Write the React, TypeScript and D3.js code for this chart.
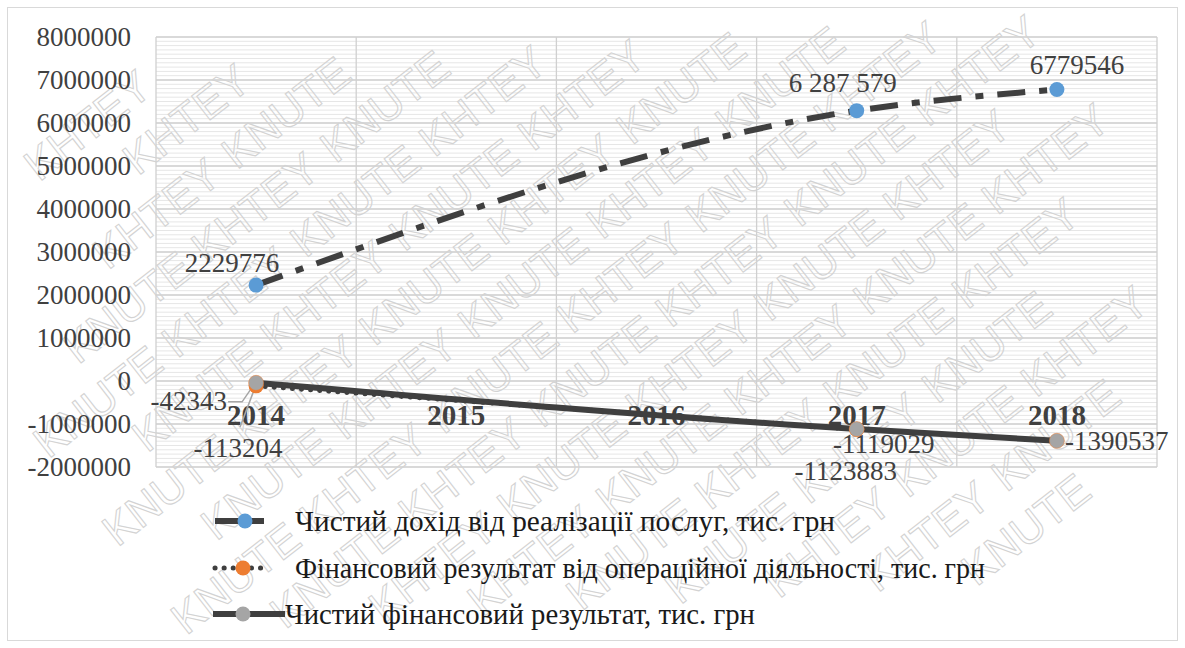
import React from 'react';
import * as d3 from 'd3';

const years = ['2014', '2015', '2016', '2017', '2018'];
const revenue: (number | null)[] = [2229776, null, null, 6287579, 6779546];
const operating: (number | null)[] = [-113204, null, null, -1123883, null];
const netResult: (number | null)[] = [-42343, null, null, -1119029, -1390537];
const revenueText = ['2229776', '', '', '6 287 579', '6779546'];
const seriesNames = [
  'Чистий дохід від реалізації послуг, тис. грн',
  'Фінансовий результат від операційної діяльності, тис. грн',
  'Чистий фінансовий результат, тис. грн',
];
const markerColors = ['#5b9bd5', '#ed7d31', '#a5a5a5'];
const watermarkWords = ['KHTEY', 'KNUTE'];

const W = 1185;
const H = 648;
const margin = { top: 37, right: 28, bottom: 181, left: 156 };
const serif = { fontFamily: 'Liberation Serif' };
const lineColor = '#3f3f3f';

// watermark: rotated grid of words, keeping only words that fit inside the frame
function watermark() {
  const deg = -38;
  const a = (deg * Math.PI) / 180;
  const fs = 44;
  const wordW = 3.39 * fs;
  const stepU = wordW + 14;
  const stepV = 56;
  const out: { x: number; y: number; w: string }[] = [];
  const pos = (uu: number, vv: number) => [
    uu * Math.cos(a) - vv * Math.sin(a),
    uu * Math.sin(a) + vv * Math.cos(a),
  ];
  for (let r = -30; r < 40; r++) {
    for (let c = -30; c < 40; c++) {
      const u = c * stepU + (((r % 2) + 2) % 2) * (stepU / 2);
      const v = r * stepV;
      const corners = [pos(u, v - 0.72 * fs), pos(u + wordW, v - 0.72 * fs), pos(u, v + 1), pos(u + wordW, v + 1)];
      const ok = corners.every(([px, py]) => px > 9 && px < 1176 && py > 9 && py < 639);
      if (ok) {
        const [px, py] = pos(u, v);
        out.push({ x: px, y: py, w: watermarkWords[(((c + r) % 2) + 2) % 2] });
      }
    }
  }
  return out.map((d, i) => (
    <text key={'w' + i} x={d.x} y={d.y} transform={`rotate(${deg} ${d.x} ${d.y})`} fontSize={fs}
      style={{ fontFamily: 'Liberation Sans' }} fill="none" stroke="#d3d3d3" strokeWidth={1.1}>{d.w}</text>
  ));
}

export default function App() {
  const x = d3.scaleBand().domain(years).range([margin.left, W - margin.right]);
  const y = d3.scaleLinear().domain([-2000000, 8000000]).range([H - margin.bottom, margin.top]);
  const cx = (i: number) => (x(years[i]) as number) + x.bandwidth() / 2;

  const majorTicks = y.ticks(10);
  const minorTicks = y.ticks(100);

  const line = (vals: (number | null)[]) => {
    const pts = vals
      .map((v, i) => (v === null ? null : ([cx(i), y(v)] as [number, number])))
      .filter((p): p is [number, number] => p !== null);
    return d3.line().curve(d3.curveMonotoneX)(pts) || '';
  };

  const pts = (vals: (number | null)[]) =>
    vals.map((v, i) => ({ v, i })).filter((d) => d.v !== null) as { v: number; i: number }[];

  const legendY = [521, 568, 614];
  const legendW = [540, 690, 470];

  return (
    <svg width={W} height={H} style={{ position: 'absolute', left: 0, top: 0, background: '#fff' }}>
      <rect x={7.5} y={7.5} width={1170} height={633} fill="#fff" stroke="#d9d9d9" />
      {/* minor gridlines */}
      {minorTicks.map((t) => (
        <line key={'m' + t} x1={margin.left} x2={W - margin.right} y1={y(t)} y2={y(t)} stroke="#e6e6e6" strokeWidth={1} />
      ))}
      {majorTicks.map((t) => (
        <line key={'M' + t} x1={margin.left} x2={W - margin.right} y1={y(t)} y2={y(t)} stroke="#d0d0d0" strokeWidth={1.3} />
      ))}
      {years.map((yr) => (
        <line key={'v' + yr} x1={x(yr) as number} x2={x(yr) as number} y1={margin.top} y2={H - margin.bottom} stroke="#d0d0d0" strokeWidth={1.3} />
      ))}
      <line x1={W - margin.right} x2={W - margin.right} y1={margin.top} y2={H - margin.bottom} stroke="#d0d0d0" strokeWidth={1.3} />

      <g>{watermark()}</g>

      {/* y tick labels */}
      {majorTicks.map((t) => (
        <text key={'t' + t} style={serif} x={131} y={y(t)} dy="0.35em" textAnchor="end" fontSize={27} fill="#404040">{t}</text>
      ))}
      {/* category labels */}
      {years.map((yr, i) => (
        <text key={'c' + yr} style={serif} x={cx(i)} y={y(0) + 44} textAnchor="middle" fontSize={29} fontWeight="bold" fill="#404040">{yr}</text>
      ))}

      {/* lines */}
      <path d={line(revenue)} fill="none" stroke={lineColor} strokeWidth={6} strokeDasharray="28 14 8 14" />
      <path d={line(operating)} fill="none" stroke={lineColor} strokeWidth={5} strokeDasharray="0.1 9" strokeLinecap="round" />
      <path d={line(netResult)} fill="none" stroke={lineColor} strokeWidth={6} />

      {/* leader lines */}
      <polyline points={`${cx(0) - 28},${y(netResult[0] as number) + 19} ${cx(0) - 14},${y(netResult[0] as number) + 19} ${cx(0) - 3},${y(netResult[0] as number) + 3}`} fill="none" stroke="#a6a6a6" strokeWidth={1.5} />
      <line x1={cx(0) - 16} y1={y(operating[0] as number) + 41} x2={cx(0) - 2} y2={y(operating[0] as number) + 4} stroke="#a6a6a6" strokeWidth={1.5} />

      {/* markers */}
      {pts(revenue).map((d) => (
        <circle key={'r' + d.i} cx={cx(d.i)} cy={y(d.v)} r={7.5} fill={markerColors[0]} />
      ))}
      {pts(operating).map((d) => (
        <circle key={'o' + d.i} cx={cx(d.i)} cy={y(d.v)} r={7.5} fill={markerColors[1]} />
      ))}
      {pts(netResult).map((d) => (
        <circle key={'n' + d.i} cx={cx(d.i)} cy={y(d.v)} r={7.5} fill={markerColors[2]} stroke="#ed7d31" strokeWidth={0.5} />
      ))}

      {/* data labels */}
      <g fontSize={27} fill="#404040" style={serif}>
        <text x={cx(0) - 24} y={y(revenue[0] as number) - 13} textAnchor="middle">{revenueText[0]}</text>
        <text x={cx(3) - 14} y={y(revenue[3] as number) - 19} textAnchor="middle">{revenueText[3]}</text>
        <text x={cx(4) + 20} y={y(revenue[4] as number) - 15} textAnchor="middle">{revenueText[4]}</text>
        <text x={cx(0) - 29} y={y(netResult[0] as number) + 27} textAnchor="end">{netResult[0]}</text>
        <text x={cx(0) - 18} y={y(operating[0] as number) + 71} textAnchor="middle">{operating[0]}</text>
        <text x={cx(3) + 27} y={y(netResult[3] as number) + 24} textAnchor="middle">{netResult[3]}</text>
        <text x={cx(3) - 11} y={y(operating[3] as number) + 51} textAnchor="middle">{operating[3]}</text>
        <text x={cx(4) + 8} y={y(netResult[4] as number) + 9} textAnchor="start">{netResult[4]}</text>
      </g>

      {/* legend */}
      <g fontSize={28.5} fill="#1a1a1a" style={serif}>
        <line x1={215} x2={264} y1={legendY[0]} y2={legendY[0]} stroke={lineColor} strokeWidth={6} />
        <circle cx={245} cy={legendY[0]} r={7.5} fill={markerColors[0]} />
        <text x={295} y={legendY[0]} dy="0.35em" textLength={legendW[0]} lengthAdjust="spacingAndGlyphs">{seriesNames[0]}</text>

        <line x1={215} x2={266} y1={legendY[1]} y2={legendY[1]} stroke={lineColor} strokeWidth={5} strokeDasharray="0.1 9" strokeLinecap="round" />
        <circle cx={243} cy={legendY[1]} r={7.5} fill={markerColors[1]} />
        <text x={295} y={legendY[1]} dy="0.35em" textLength={legendW[1]} lengthAdjust="spacingAndGlyphs">{seriesNames[1]}</text>

        <line x1={213} x2={285} y1={legendY[2]} y2={legendY[2]} stroke={lineColor} strokeWidth={6} />
        <circle cx={243} cy={legendY[2]} r={7.5} fill={markerColors[2]} />
        <text x={285} y={legendY[2]} dy="0.35em" textLength={legendW[2]} lengthAdjust="spacingAndGlyphs">{seriesNames[2]}</text>
      </g>
    </svg>
  );
}
